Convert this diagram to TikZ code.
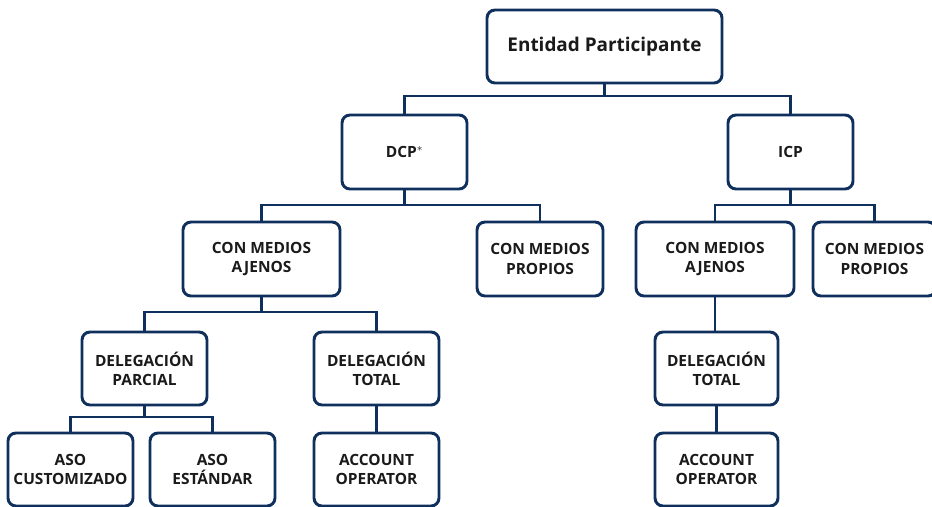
\documentclass[tikz,border=0pt]{standalone}
\usepackage{fontspec}
\setmainfont{Open Sans}
\definecolor{navy}{HTML}{0F2F5C}
\definecolor{ink}{HTML}{1A1A1A}
\begin{document}
\begin{tikzpicture}[x=0.75pt,y=-0.75pt,
  box/.style={draw=navy,line width=2.2pt,rounded corners=6pt,fill=white,
    align=center,text=ink,inner sep=0pt,minimum height=73*0.75pt,
    font=\fontsize{11.6}{14.4}\selectfont\bfseries},
  conn/.style={draw=navy,line width=2.2pt}]
\useasboundingbox (0,0) rectangle (932,507);
\clip (0,0) rectangle (932,507);
\fill[white] (0,0) rectangle (932,507);
% bus levels
\coordinate (b1) at (0,96);
\coordinate (b2) at (0,205);
\coordinate (b3) at (0,312);
\coordinate (b4) at (0,417);
% nodes
\node[box,minimum width=235*0.75pt,font=\fontsize{14.2}{17}\selectfont\bfseries] (ent) at (604.5,46.5) {Entidad Participante};
\node[box,minimum width=125*0.75pt,minimum height=74*0.75pt] (dcp) at (404.5,152) {DCP$^{*}$};
\node[box,minimum width=125*0.75pt,minimum height=74*0.75pt] (icp) at (790.5,152) {ICP};
\node[box,minimum width=157*0.75pt,minimum height=74*0.75pt] (aj1) at (261.5,259) {CON MEDIOS\\AJENOS};
\node[box,minimum width=126*0.75pt,minimum height=74*0.75pt] (pr1) at (540,259) {CON MEDIOS\\PROPIOS};
\node[box,minimum width=158*0.75pt,minimum height=74*0.75pt] (aj2) at (715,259) {CON MEDIOS\\AJENOS};
\node[box,minimum width=123*0.75pt,minimum height=74*0.75pt] (pr2) at (874.5,259) {CON MEDIOS\\PROPIOS};
\node[box,minimum width=125*0.75pt] (dp) at (144.5,368.5) {DELEGACIÓN\\PARCIAL};
\node[box,minimum width=125*0.75pt] (dt1) at (376.5,368.5) {DELEGACIÓN\\TOTAL};
\node[box,minimum width=123*0.75pt] (dt2) at (716.5,368.5) {DELEGACIÓN\\TOTAL};
\node[box,minimum width=125*0.75pt] (aso1) at (70.5,469.5) {ASO\\CUSTOMIZADO};
\node[box,minimum width=125*0.75pt] (aso2) at (212.5,469.5) {ASO\\ESTÁNDAR};
\node[box,minimum width=125*0.75pt] (ao1) at (376.5,469.5) {ACCOUNT\\OPERATOR};
\node[box,minimum width=123*0.75pt] (ao2) at (716.5,469.5) {ACCOUNT\\OPERATOR};
% connectors
\draw[conn] (ent.south) -- (ent.south |- b1);
\draw[conn] (dcp.north) |- (icp.north |- b1) -- (icp.north);
\draw[conn] (dcp.south) -- (dcp.south |- b2);
\draw[conn] (aj1.north) |- (pr1.north |- b2) -- (pr1.north);
\draw[conn] (icp.south) -- (icp.south |- b2);
\draw[conn] (aj2.north) |- (pr2.north |- b2) -- (pr2.north);
\draw[conn] (aj1.south) -- (aj1.south |- b3);
\draw[conn] (dp.north) |- (dt1.north |- b3) -- (dt1.north);
\draw[conn] (aj2.south) -- (aj2.south |- dt2.north);
\draw[conn] (dp.south) -- (dp.south |- b4);
\draw[conn] (aso1.north) |- (aso2.north |- b4) -- (aso2.north);
\draw[conn] (dt1.south) -- (ao1.north);
\draw[conn] (dt2.south) -- (ao2.north);
\end{tikzpicture}
\end{document}
